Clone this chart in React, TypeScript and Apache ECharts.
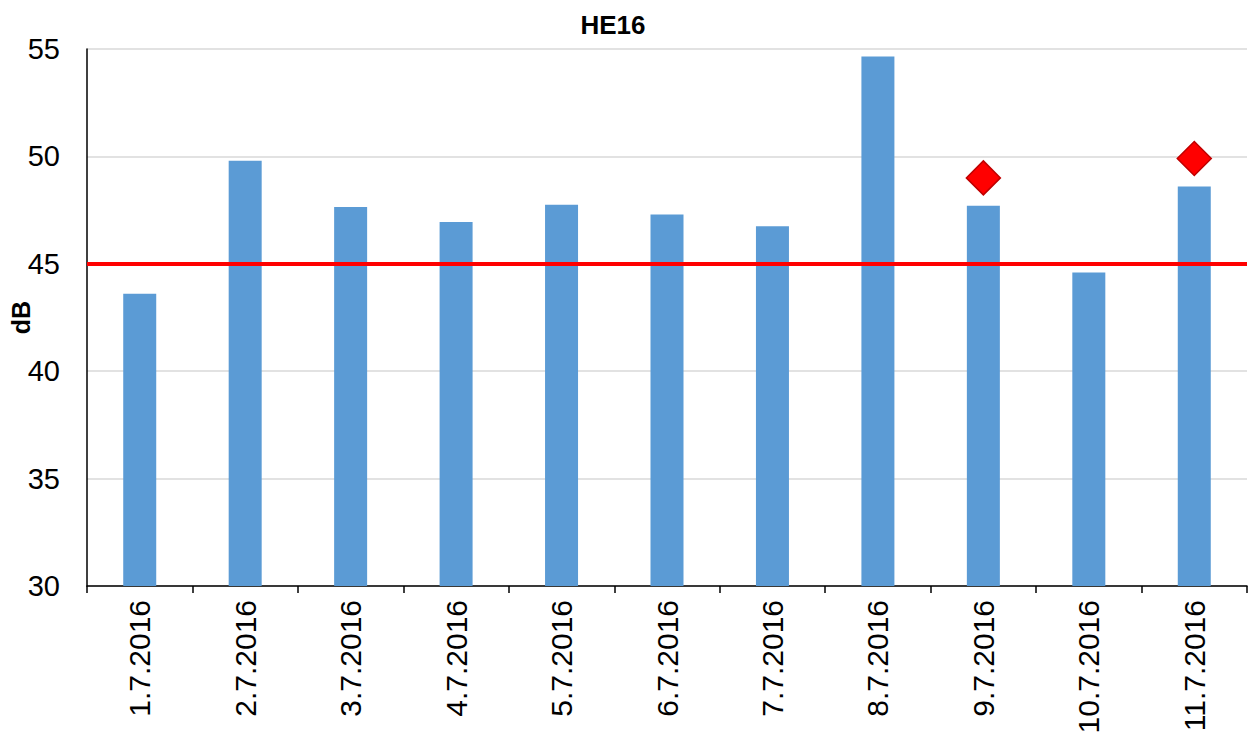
import React, { useEffect, useRef } from "react";
import * as echarts from "echarts";

const categories = ["1.7.2016", "2.7.2016", "3.7.2016", "4.7.2016", "5.7.2016", "6.7.2016", "7.7.2016", "8.7.2016", "9.7.2016", "10.7.2016", "11.7.2016"];
const levels = [43.6, 49.8, 47.65, 46.95, 47.75, 47.3, 46.75, 54.65, 47.7, 44.6, 48.6];
const markers: (number | string)[] = ["-", "-", "-", "-", "-", "-", "-", "-", 49.0, "-", 49.9];
const limit = 45;
const yTicks = { min: 30, max: 55, interval: 5 };

const FONT = "Liberation Sans, Arial, sans-serif";

export default function App() {
  const ref = useRef<HTMLDivElement>(null);
  useEffect(() => {
    const chart = echarts.init(ref.current!, null, { renderer: "svg" });
    chart.setOption({
      animation: false,
      backgroundColor: "#ffffff",
      title: {
        text: "HE16",
        left: 608,
        top: 7,
        textAlign: "center",
        textStyle: { fontFamily: FONT, fontSize: 26, fontWeight: "bold", color: "#000" },
      },
      grid: { left: 87, right: 2, top: 49, bottom: 149, containLabel: false, outerBoundsMode: "none" },
      xAxis: {
        type: "category",
        data: categories,
        axisLine: { lineStyle: { color: "#000", width: 1.5 } },
        axisTick: { show: true, length: 7, lineStyle: { color: "#000", width: 1.5 } },
        axisLabel: { rotate: 90, fontSize: 30, color: "#000", fontFamily: FONT, margin: 14 },
      },
      yAxis: {
        type: "value",
        min: yTicks.min,
        max: yTicks.max,
        interval: yTicks.interval,
        name: "dB",
        nameLocation: "middle",
        nameGap: 54,
        nameRotate: 90,
        nameMoveOverlap: false,
        nameTextStyle: { fontSize: 25, fontWeight: "bold", color: "#000", fontFamily: FONT },
        axisLine: { show: true, lineStyle: { color: "#000", width: 1.5 } },
        axisTick: { show: false },
        axisLabel: { fontSize: 29, color: "#000", fontFamily: FONT, margin: 27 },
        splitLine: { lineStyle: { color: "#d9d9d9", width: 1.5 } },
      },
      series: [
        {
          type: "bar",
          data: levels,
          barWidth: 33,
          itemStyle: { color: "#5b9bd5" },
          markLine: {
            silent: true,
            symbol: "none",
            label: { show: false },
            lineStyle: { color: "#ff0000", width: 4, type: "solid", opacity: 1 },
            data: [{ yAxis: limit }],
          },
        },
        {
          type: "scatter",
          data: markers,
          symbol: "diamond",
          symbolSize: [34, 34],
          itemStyle: { color: "#ff0000", borderColor: "#c00000", borderWidth: 1.5, opacity: 1 },
          z: 5,
        },
      ],
    });
    return () => chart.dispose();
  }, []);
  return <div ref={ref} style={{ position: "fixed", left: 0, top: 0, width: 1249, height: 735 }} />;
}
